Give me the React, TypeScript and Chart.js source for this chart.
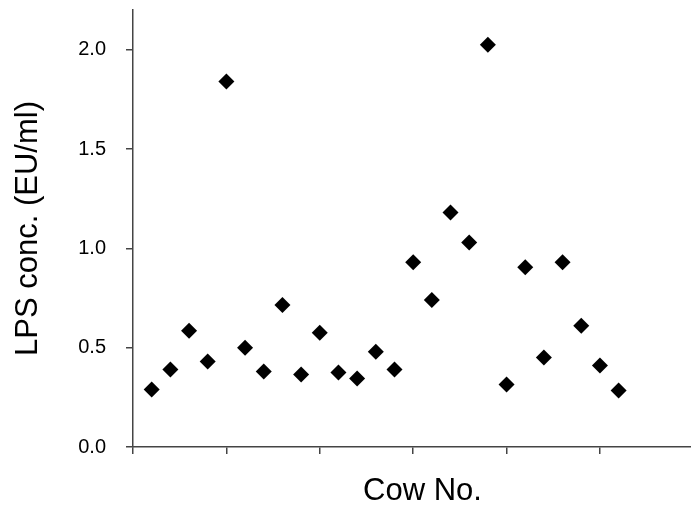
import React, { useEffect, useRef } from "react";
import { Chart, registerables } from "chart.js";

Chart.register(...registerables);

const cowNumbers = [1, 2, 3, 4, 5, 6, 7, 8, 9, 10, 11, 12, 13, 14, 15, 16, 17, 18, 19, 20, 21, 22, 23, 24, 25, 26];
const lpsValues = [0.29, 0.39, 0.585, 0.43, 1.84, 0.50, 0.38, 0.715, 0.365, 0.575, 0.375, 0.345, 0.48, 0.39, 0.93, 0.74, 1.18, 1.03, 2.025, 0.315, 0.905, 0.45, 0.93, 0.61, 0.41, 0.285];
const yTickValues = [0, 0.5, 1.0, 1.5, 2.0];
const xTickValues = [0, 5, 10, 15, 20, 25];

const AXIS_COLOR = "#444444";
const X_MAX = 31;
const Y_MAX = 2.2;

export default function App() {
  const canvasRef = useRef<HTMLCanvasElement | null>(null);

  useEffect(() => {
    document.body.style.margin = "0";
    const canvas = canvasRef.current;
    if (!canvas) return;
    const chart = new Chart(canvas, {
      type: "scatter",
      data: {
        datasets: [
          {
            data: cowNumbers.map((x, i) => ({ x, y: lpsValues[i] })),
            pointStyle: "rectRot",
            pointRadius: 8,
            pointHoverRadius: 8,
            backgroundColor: "#000000",
            borderColor: "#000000",
            borderWidth: 0,
          },
        ],
      },
      options: {
        animation: false,
        responsive: true,
        maintainAspectRatio: false,
        layout: { autoPadding: false, padding: { left: 0, right: 0, top: 10, bottom: 0 } },
        plugins: {
          legend: { display: false },
          tooltip: { enabled: false },
        },
        scales: {
          x: {
            type: "linear",
            min: 0,
            max: X_MAX,
            afterBuildTicks: (scale: any) => {
              scale.ticks = xTickValues.map((v) => ({ value: v }));
            },
            afterFit: (scale: any) => {
              scale.height = 66;
              scale.paddingLeft = 0;
              scale.paddingRight = 0;
            },
            ticks: { display: false },
            grid: {
              display: true,
              drawOnChartArea: false,
              drawTicks: true,
              tickLength: 7,
              color: AXIS_COLOR,
              lineWidth: 1.5,
            },
            border: { display: true, color: AXIS_COLOR, width: 1.5 },
            title: {
              display: true,
              text: "Cow No.",
              color: "#000000",
              font: { family: "'Liberation Sans', Arial, sans-serif", size: 31 },
              padding: { top: 4, bottom: 3 },
            },
          },
          y: {
            type: "linear",
            min: 0,
            max: Y_MAX,
            afterBuildTicks: (scale: any) => {
              scale.ticks = yTickValues.map((v) => ({ value: v }));
            },
            afterFit: (scale: any) => {
              scale.width = 133;
              scale.paddingTop = 0;
              scale.paddingBottom = 0;
            },
            ticks: {
              color: "#000000",
              padding: 20,
              font: { family: "'Liberation Sans', Arial, sans-serif", size: 20 },
              callback: (v: any) => Number(v).toFixed(1),
            },
            grid: {
              display: true,
              drawOnChartArea: false,
              drawTicks: true,
              tickLength: 7,
              color: AXIS_COLOR,
              lineWidth: 1.5,
            },
            border: { display: true, color: AXIS_COLOR, width: 1.5 },
            title: {
              display: true,
              text: "LPS conc. (EU/ml)",
              color: "#000000",
              font: { family: "'Liberation Sans', Arial, sans-serif", size: 31 },
              padding: { top: 10, bottom: 4 },
            },
          },
        },
      },
    });
    return () => chart.destroy();
  }, []);

  return (
    <div
      style={{
        position: "fixed",
        left: 0,
        top: 0,
        width: 691,
        height: 513,
        overflow: "hidden",
        background: "#ffffff",
      }}
    >
      <div style={{ position: "relative", width: 712, height: 513 }}>
        <canvas ref={canvasRef} />
      </div>
    </div>
  );
}
